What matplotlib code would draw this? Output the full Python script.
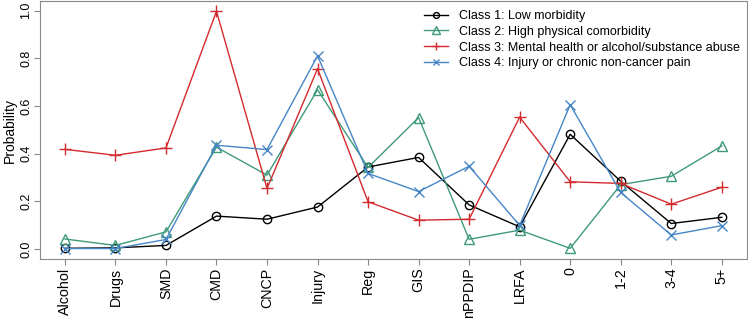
import matplotlib
matplotlib.use('Agg')
import matplotlib.pyplot as plt

plt.rcParams['font.family'] = ['Liberation Sans', 'DejaVu Sans']

# категории по оси x
cats = ['Alcohol', 'Drugs', 'SMD', 'CMD', 'CNCP', 'Injury', 'Reg', 'GIS',
        'nPPDIP', 'LRFA', '0', '1-2', '3-4', '5+']

# вероятности по классам
class1 = [0.003, 0.005, 0.015, 0.138, 0.125, 0.176, 0.344, 0.384,
          0.185, 0.093, 0.481, 0.284, 0.107, 0.133]
class2 = [0.042, 0.015, 0.072, 0.427, 0.310, 0.668, 0.342, 0.551,
          0.041, 0.079, 0.003, 0.270, 0.305, 0.432]
class3 = [0.418, 0.393, 0.424, 0.997, 0.254, 0.756, 0.198, 0.121,
          0.125, 0.553, 0.282, 0.275, 0.188, 0.259]
class4 = [0.002, 0.002, 0.040, 0.435, 0.417, 0.810, 0.317, 0.241,
          0.347, 0.099, 0.605, 0.237, 0.059, 0.098]

labels = ['Class 1: Low morbidity',
          'Class 2: High physical comorbidity',
          'Class 3: Mental health or alcohol/substance abuse',
          'Class 4: Injury or chronic non-cancer pain']
colors = ['black', '#3f9a7a', '#d42a2f', '#4686c6']
markers = ['o', '^', '+', 'x']
msizes = [6, 7.5, 9, 7]

fig = plt.figure(figsize=(7.48, 3.23), dpi=100)
ax = fig.add_axes([0.053, 0.198, 0.9457, 0.799])

x = list(range(len(cats)))
for ys, lab, c, m, ms in zip([class1, class2, class3, class4], labels, colors, markers, msizes):
    ax.plot(x, ys, color=c, marker=m, markersize=ms, markerfacecolor='none',
            markeredgewidth=1.0, linewidth=1.0, label=lab)

ax.set_xlim(-0.5, 13.5)
ax.set_ylim(-0.042, 1.04)
ax.set_xticks(x)
ax.set_xticklabels(cats, rotation=90, fontsize=10.3)
ax.set_yticks([0.0, 0.2, 0.4, 0.6, 0.8, 1.0])
ax.set_yticklabels(['0.0', '0.2', '0.4', '0.6', '0.8', '1.0'], rotation=90,
                   va='center', fontsize=9)
ax.set_ylabel('Probability', fontsize=10)
ax.yaxis.set_label_coords(-0.032, 0.5)
ax.tick_params(axis='both', color='#888888', length=4, pad=1.5)
ax.tick_params(axis='x', pad=2)
for s in ax.spines.values():
    s.set_color('#888888')

ax.legend(loc='upper left', bbox_to_anchor=(0.543, 0.965), frameon=False,
          fontsize=9, handlelength=1.9, handletextpad=0.9, labelspacing=0.3,
          borderaxespad=0, borderpad=0, markerscale=0.7)

fig.savefig('out.png', dpi=100)
